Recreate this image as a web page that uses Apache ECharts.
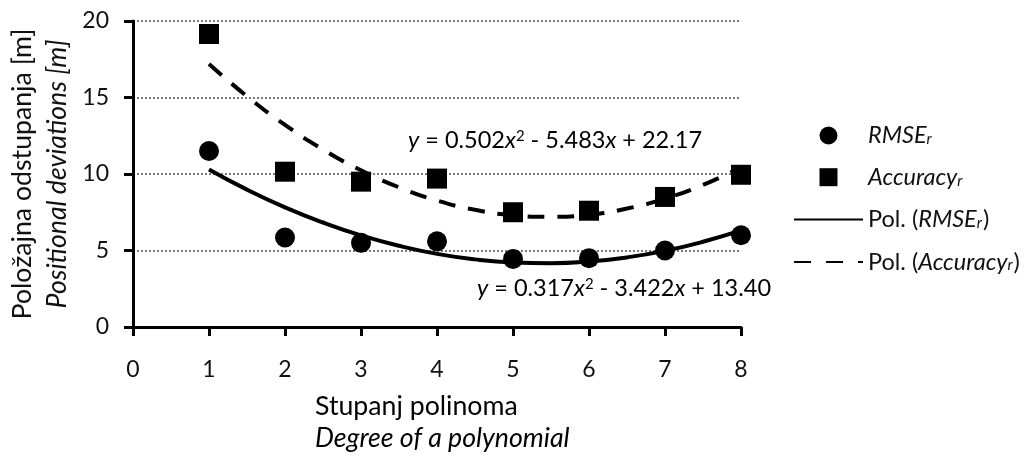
<!DOCTYPE html>
<html><head><meta charset="utf-8">
<script src="https://cdn.jsdelivr.net/npm/echarts@6/dist/echarts.min.js"></script>
<style>html,body{margin:0;padding:0;background:#fff}#c{width:1029px;height:457px}</style>
</head><body><div id="c"></div>
<script>
// ---- data ----
const degrees = [1, 2, 3, 4, 5, 6, 7, 8];
const rmseValues = [11.5, 5.85, 5.5, 5.6, 4.45, 4.5, 5.0, 6.0];
const accuracyValues = [19.15, 10.15, 9.5, 9.7, 7.5, 7.6, 8.5, 9.95];
const trendX = [1, 1.5, 2, 2.5, 3, 3.5, 4, 4.5, 5, 5.5, 6, 6.5, 7, 7.5, 8];
const rmseTrend = [10.30, 8.98, 7.82, 6.83, 5.99, 5.31, 4.78, 4.42, 4.22, 4.17, 4.28, 4.55, 4.98, 5.57, 6.31];
const accuracyTrend = [17.19, 15.08, 13.21, 11.60, 10.24, 9.13, 8.27, 7.66, 7.31, 7.20, 7.34, 7.74, 8.39, 9.29, 10.43];
const xTickLabels = ['0', '1', '2', '3', '4', '5', '6', '7', '8'];
const yTickLabels = ['0', '5', '10', '15', '20'];
const seriesNames = ['RMSE', 'Accuracy', 'Pol. (RMSE)', 'Pol. (Accuracy)'];
const eqAccuracy = ['0.502', '5.483', '22.17'];
const eqRmse = ['0.317', '3.422', '13.40'];
const xTitle = ['Stupanj polinoma', 'Degree of a polynomial'];
const yTitle = ['Položajna odstupanja [m]', 'Positional deviations [m]'];

// ---- chart ----
const FONT = 'Lato';
const TXT = '#111';
const zip = (xs, ys) => xs.map((x, i) => [x, ys[i]]);

// font size that makes a text as wide as it is in the reference
const ctx = document.createElement('canvas').getContext('2d');
function fitSize(text, width, italic) {
  ctx.font = (italic ? 'italic ' : '') + '100px ' + FONT;
  return Math.round(1000 * width / ctx.measureText(text).width) / 10;
}
const FS_TICK = 23;
const FS_TITLE = fitSize(xTitle[0], 203, false);
const FS = 23.5;                     // legend + equations
const FS_SUB = 15;
const subShift = 7;

const LH = 28;
const baseRich = {
  n: { fontFamily: FONT, fontSize: FS, color: TXT, lineHeight: LH },
  i: { fontFamily: FONT, fontSize: FS, color: TXT, fontStyle: 'italic', lineHeight: LH },
  sub: { fontFamily: FONT, fontSize: FS_SUB, color: TXT, fontStyle: 'italic', lineHeight: LH, padding: [subShift, 1, 0, 0] },
  sup: { fontFamily: FONT, fontSize: FS_SUB, color: TXT, lineHeight: LH, padding: [0, 0, subShift, 0] }
};
const legendText = {
  'RMSE': '{i|RMSE}{sub|r}',
  'Accuracy': '{i|Accuracy}{sub|r}',
  'Pol. (RMSE)': '{n|Pol. (}{i|RMSE}{sub|r}{n|)}',
  'Pol. (Accuracy)': '{n|Pol. (}{i|Accuracy}{sub|r}{n|)}'
};
const eq = (c) => '{i|y}{n| = ' + c[0] + '}{i|x}{sup|2}{n| - ' + c[1] + '}{i|x}{n| + ' + c[2] + '}';

const chart = echarts.init(document.getElementById('c'), null, { renderer: 'canvas' });
chart.setOption({
  backgroundColor: '#fff',
  animation: false,
  grid: { left: 133, right: 288, top: 21, bottom: 130, containLabel: false },
  xAxis: {
    type: 'value', min: 0, max: 8, interval: 1,
    axisLine: { show: true, lineStyle: { color: '#000', width: 3 } },
    axisTick: { show: true, inside: false, length: 9, lineStyle: { color: '#000', width: 3 } },
    axisLabel: { margin: 31, fontFamily: FONT, fontSize: FS_TICK, color: TXT,
      formatter: (v) => xTickLabels[Math.round(v)] },
    splitLine: { show: false }
  },
  yAxis: {
    type: 'value', min: 0, max: 20, interval: 5,
    axisLine: { show: true, lineStyle: { color: '#000', width: 3 } },
    axisTick: { show: true, length: 9, lineStyle: { color: '#000', width: 3 } },
    axisLabel: { margin: 24, fontFamily: FONT, fontSize: FS_TICK, color: TXT,
      formatter: (v) => yTickLabels[Math.round(v / 5)] },
    splitLine: { show: true, lineStyle: { color: '#7a7a7a', width: 2, type: [2, 2] } },
    name: '{a|' + yTitle[0] + '}\n{b|' + yTitle[1] + '}',
    nameLocation: 'middle', nameRotate: 90, nameGap: 58,
    nameTextStyle: { rich: {
      a: { fontFamily: FONT, fontSize: FS_TITLE, color: TXT, lineHeight: 35 },
      b: { fontFamily: FONT, fontSize: FS_TITLE, color: TXT, fontStyle: 'italic', lineHeight: 35 }
    } }
  },
  legend: {
    orient: 'vertical', left: 788, top: 133 - LH / 2,
    itemWidth: 69, itemHeight: 18, itemGap: 46.7 - LH,
    symbolKeepAspect: true,
    data: [
      { name: seriesNames[0], icon: 'circle' },
      { name: seriesNames[1], icon: 'path://M0,0H10V10H0Z' },
      { name: seriesNames[2], itemStyle: { opacity: 0 } },
      { name: seriesNames[3], itemStyle: { opacity: 0 }, lineStyle: { type: [17, 15] } }
    ],
    formatter: (name) => legendText[name],
    textStyle: { rich: baseRich },
    selectedMode: false
  },
  series: [
    { name: seriesNames[2], type: 'line', data: zip(trendX, rmseTrend), smooth: true,
      symbol: 'none', showSymbol: false, z: 3,
      lineStyle: { color: '#000', width: 4 }, itemStyle: { color: '#000' } },
    { name: seriesNames[3], type: 'line', data: zip(trendX, accuracyTrend), smooth: true,
      symbol: 'none', showSymbol: false, z: 3,
      lineStyle: { color: '#000', width: 4, type: [17, 13] }, itemStyle: { color: '#000' } },
    { name: seriesNames[0], type: 'scatter', data: zip(degrees, rmseValues), symbol: 'circle',
      symbolSize: 20, z: 4, itemStyle: { color: '#000', opacity: 1 } },
    { name: seriesNames[1], type: 'scatter', data: zip(degrees, accuracyValues), symbol: 'rect',
      symbolSize: 20, z: 4, itemStyle: { color: '#000', opacity: 1 } }
  ],
  graphic: [
    { type: 'text', left: 408, top: 142 - LH / 2, style: { text: eq(eqAccuracy), rich: baseRich } },
    { type: 'text', left: 477, top: 290 - LH / 2, style: { text: eq(eqRmse), rich: baseRich } },
    { type: 'text', left: 315, top: 393, style: {
      text: '{a|' + xTitle[0] + '}\n{b|' + xTitle[1] + '}',
      rich: {
        a: { fontFamily: FONT, fontSize: FS_TITLE, color: TXT, lineHeight: 32 },
        b: { fontFamily: FONT, fontSize: FS_TITLE, color: TXT, fontStyle: 'italic', lineHeight: 32 }
      } } }
  ]
});
</script></body></html>
